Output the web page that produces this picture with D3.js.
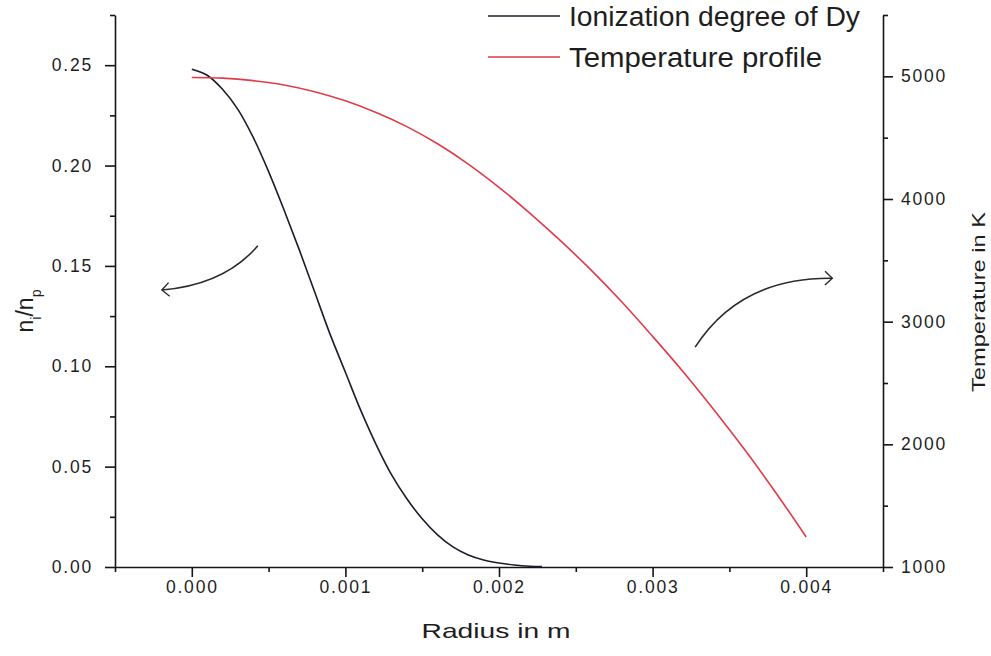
<!DOCTYPE html>
<html>
<head>
<meta charset="utf-8">
<script src="https://cdn.jsdelivr.net/npm/d3@7"></script>
<style>
  html, body { margin: 0; padding: 0; background: #ffffff; }
  svg { display: block; }
  text { font-family: "Liberation Sans", Arial, sans-serif; fill: #1e1e1e; }
</style>
</head>
<body>
<svg id="chart" width="991" height="656"></svg>
<script>
// ---- data ----
const ionRadius = [0, 0.0001, 0.0002, 0.0003, 0.0004, 0.0005, 0.0006, 0.0007, 0.0008, 0.0009, 0.001, 0.0011, 0.0012, 0.0013, 0.0014, 0.0015, 0.0016, 0.0017, 0.0018, 0.0019, 0.002, 0.0021, 0.0022, 0.00228];
const ionDegree = [0.248, 0.245, 0.238, 0.228, 0.214, 0.197, 0.178, 0.158, 0.137, 0.116, 0.097, 0.078, 0.061, 0.046, 0.034, 0.024, 0.016, 0.010, 0.006, 0.0035, 0.002, 0.001, 0.0004, 0.0002];
const tempRadius = [0, 0.0002, 0.0004, 0.0006, 0.0008, 0.001, 0.0012, 0.0014, 0.0016, 0.0018, 0.002, 0.0022, 0.0024, 0.0026, 0.0028, 0.003, 0.0032, 0.0034, 0.0036, 0.0038, 0.004];
const temperature = [4990, 4985, 4965, 4930, 4875, 4800, 4705, 4590, 4450, 4285, 4095, 3885, 3660, 3420, 3160, 2880, 2590, 2280, 1955, 1610, 1245];
const xTicks = [0, 0.001, 0.002, 0.003, 0.004];
const xMinorTicks = [-0.0005, 0.0005, 0.0015, 0.0025, 0.0035, 0.0045];
const yLeftTicks = [0, 0.05, 0.10, 0.15, 0.20, 0.25];
const yLeftMinorTicks = [0.025, 0.075, 0.125, 0.175, 0.225, 0.275];
const yRightTicks = [1000, 2000, 3000, 4000, 5000];
const yRightMinorTicks = [1500, 2500, 3500, 4500, 5500];
const seriesNames = ["Ionization degree of Dy", "Temperature profile"];
const seriesColors = ["#1c1c2c", "#e23a48"];
// annotation arrows (data space): [start, control, end]
const leftArrow = [[0.00043, 0.160], [0.00021, 0.1405], [-0.000195, 0.138]];
const rightArrow = [[0.003277, 2792], [0.00357, 3363], [0.00417, 3354]];

// ---- layout ----
const svg = d3.select("#chart");
const mLeft = 115, mRight = 883, mTop = 15, mBottom = 567;

const x = d3.scaleLinear().domain([-0.0005, 0.0045]).range([mLeft, mRight]);
const yL = d3.scaleLinear().domain([0, 0.275]).range([mBottom, mTop]);
const yR = d3.scaleLinear().domain([1000, 5500]).range([mBottom, mTop]);

const tickFont = g => g.selectAll("text")
  .style("font-size", "17.5px").style("letter-spacing", "1.8px").style("fill", "#1e1e1e");

// bottom axis
const gx = svg.append("g").attr("transform", `translate(0,${mBottom})`)
  .call(d3.axisBottom(x).tickValues(xTicks).tickSize(10).tickSizeOuter(0).tickPadding(4)
    .tickFormat(d3.format(".3f")));
gx.call(tickFont);
svg.append("g").attr("transform", `translate(0,${mBottom})`)
  .call(d3.axisBottom(x).tickValues(xMinorTicks).tickSize(5).tickSizeOuter(0).tickFormat(""))
  .call(g => g.select(".domain").remove());

// left axis
const gl = svg.append("g").attr("transform", `translate(${mLeft},0)`)
  .call(d3.axisLeft(yL).tickValues(yLeftTicks).tickSize(10).tickSizeOuter(0).tickPadding(12)
    .tickFormat(d3.format(".2f")));
gl.call(tickFont);
svg.append("g").attr("transform", `translate(${mLeft},0)`)
  .call(d3.axisLeft(yL).tickValues(yLeftMinorTicks).tickSize(5).tickSizeOuter(0).tickFormat(""))
  .call(g => g.select(".domain").remove());

// right axis
const gr = svg.append("g").attr("transform", `translate(${mRight},0)`)
  .call(d3.axisRight(yR).tickValues(yRightTicks).tickSize(10).tickSizeOuter(0).tickPadding(8)
    .tickFormat(d3.format("d")));
gr.call(tickFont);
svg.append("g").attr("transform", `translate(${mRight},0)`)
  .call(d3.axisRight(yR).tickValues(yRightMinorTicks).tickSize(5).tickSizeOuter(0).tickFormat(""))
  .call(g => g.select(".domain").remove());

svg.selectAll(".domain, .tick line").attr("stroke", "#151515").attr("stroke-width", 1.6);

// ---- curves ----
const ionLine = d3.line().x((d, i) => x(ionRadius[i])).y(d => yL(d)).curve(d3.curveCatmullRom);
svg.append("path").attr("d", ionLine(ionDegree))
  .attr("fill", "none").attr("stroke", seriesColors[0]).attr("stroke-width", 1.6);

const tLine = d3.line().x((d, i) => x(tempRadius[i])).y(d => yR(d)).curve(d3.curveCatmullRom);
svg.append("path").attr("d", tLine(temperature))
  .attr("fill", "none").attr("stroke", seriesColors[1]).attr("stroke-width", 1.6);

// ---- annotation arrows ----
function arrow(pts, sc) {
  const p = pts.map(d => [x(d[0]), sc(d[1])]);
  const path = d3.path();
  path.moveTo(p[0][0], p[0][1]);
  path.quadraticCurveTo(p[1][0], p[1][1], p[2][0], p[2][1]);
  svg.append("path").attr("d", path.toString()).attr("fill", "none")
    .attr("stroke", "#2a2a2a").attr("stroke-width", 1.6);
  const ang = Math.atan2(p[2][1] - p[1][1], p[2][0] - p[1][0]);
  const len = 10, spread = 0.75;
  const h = d3.path();
  h.moveTo(p[2][0] - len * Math.cos(ang - spread), p[2][1] - len * Math.sin(ang - spread));
  h.lineTo(p[2][0], p[2][1]);
  h.lineTo(p[2][0] - len * Math.cos(ang + spread), p[2][1] - len * Math.sin(ang + spread));
  svg.append("path").attr("d", h.toString()).attr("fill", "none")
    .attr("stroke", "#2a2a2a").attr("stroke-width", 1.4);
}
arrow(leftArrow, yL);
arrow(rightArrow, yR);

// ---- axis titles ----
svg.append("text").attr("x", 496).attr("y", 638).attr("text-anchor", "middle")
  .attr("textLength", 149).attr("lengthAdjust", "spacingAndGlyphs")
  .style("font-size", "21px").text("Radius in m");

const lt = svg.append("text").attr("transform", "translate(33,311) rotate(-90)")
  .attr("text-anchor", "middle").style("font-size", "23px");
lt.append("tspan").text("n");
lt.append("tspan").attr("baseline-shift", "sub").style("font-size", "14px").text("i");
lt.append("tspan").text("/n");
lt.append("tspan").attr("baseline-shift", "sub").style("font-size", "14px").text("p");

svg.append("text").attr("transform", "translate(985,302) rotate(-90)")
  .attr("text-anchor", "middle").attr("textLength", 180).attr("lengthAdjust", "spacingAndGlyphs")
  .style("font-size", "19px").text("Temperature in K");

// ---- legend ----
const legY = [16, 57];
const legLen = [291, 253];
seriesNames.forEach((name, i) => {
  svg.append("line").attr("x1", 488).attr("x2", 560).attr("y1", legY[i]).attr("y2", legY[i])
    .attr("stroke", seriesColors[i]).attr("stroke-width", 1.5);
  svg.append("text").attr("x", 569).attr("y", legY[i] + 10)
    .attr("textLength", legLen[i]).attr("lengthAdjust", "spacingAndGlyphs")
    .style("font-size", "27px").text(name);
});
</script>
</body>
</html>
